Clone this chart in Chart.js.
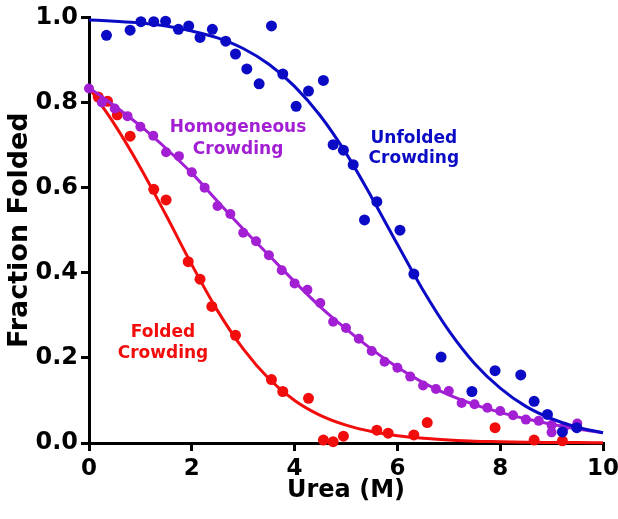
<!DOCTYPE html>
<html>
<head>
<meta charset="utf-8">
<script src="https://cdn.jsdelivr.net/npm/chart.js@4.4.1/dist/chart.umd.min.js"></script>
<style>
  html, body { margin: 0; padding: 0; background: #fff; }
  #wrap { width: 618px; height: 519px; }
</style>
</head>
<body>
<div id="wrap"><canvas id="unfolding_chart" width="618" height="519"></canvas></div>
<script>
var BLUE = "#0b0bc6";
var PURPLE = "#a21fd3";
var RED = "#f20d0d";
var FONT = "'DejaVu Sans', Verdana, sans-serif";

// tick values
var xTicks = [0, 2, 4, 6, 8, 10];
var yTicks = [0.0, 0.2, 0.4, 0.6, 0.8, 1.0];

// fitted curves, every 0.5 M
var fitUrea = [0, 0.5, 1, 1.5, 2, 2.5, 3, 3.5, 4, 4.5, 5, 5.5, 6, 6.5, 7, 7.5, 8, 8.5, 9, 9.5, 10];
var unfoldedFit = [0.994, 0.991, 0.987, 0.980, 0.968, 0.952, 0.927, 0.890, 0.838, 0.769, 0.681, 0.577, 0.467, 0.359, 0.264, 0.187, 0.129, 0.086, 0.057, 0.037, 0.024];
var homogeneousFit = [0.835, 0.792, 0.745, 0.692, 0.634, 0.568, 0.503, 0.441, 0.379, 0.320, 0.268, 0.220, 0.178, 0.142, 0.113, 0.090, 0.072, 0.057, 0.044, 0.033, 0.024];
var foldedFit = [0.835, 0.748, 0.647, 0.535, 0.419, 0.311, 0.221, 0.151, 0.100, 0.065, 0.042, 0.027, 0.017, 0.011, 0.007, 0.004, 0.003, 0.002, 0.001, 0.001, 0.0005];

// measured points
var unfoldedX = [0.34, 0.80, 1.01, 1.26, 1.49, 1.74, 1.94, 2.16, 2.40, 2.66, 2.85, 3.07, 3.31, 3.55, 3.77, 4.03, 4.27, 4.56, 4.75, 4.95, 5.14, 5.36, 5.60, 6.05, 6.32, 6.85, 7.45, 7.90, 8.40, 8.66, 8.92, 9.21, 9.49];
var unfoldedY = [0.958, 0.970, 0.990, 0.990, 0.991, 0.972, 0.980, 0.953, 0.972, 0.944, 0.914, 0.879, 0.844, 0.980, 0.867, 0.791, 0.827, 0.852, 0.701, 0.688, 0.654, 0.524, 0.567, 0.500, 0.397, 0.202, 0.121, 0.170, 0.160, 0.098, 0.067, 0.026, 0.036];

var homogeneousX = [0, 0.25, 0.5, 0.75, 1.0, 1.25, 1.5, 1.75, 2.0, 2.25, 2.5, 2.75, 3.0, 3.25, 3.5, 3.75, 4.0, 4.25, 4.5, 4.75, 5.0, 5.25, 5.5, 5.75, 6.0, 6.25, 6.5, 6.75, 7.0, 7.25, 7.5, 7.75, 8.0, 8.25, 8.5, 8.75, 9.0, 9.0, 9.25, 9.5];
var homogeneousY = [0.833, 0.800, 0.786, 0.768, 0.743, 0.722, 0.683, 0.674, 0.636, 0.600, 0.557, 0.538, 0.494, 0.474, 0.441, 0.406, 0.375, 0.360, 0.329, 0.285, 0.270, 0.245, 0.216, 0.191, 0.177, 0.156, 0.135, 0.127, 0.122, 0.094, 0.091, 0.083, 0.075, 0.065, 0.055, 0.052, 0.042, 0.025, 0.038, 0.046];

var foldedX = [0.18, 0.36, 0.55, 0.80, 1.26, 1.50, 1.93, 2.16, 2.39, 2.85, 3.55, 3.77, 4.27, 4.56, 4.75, 4.95, 5.60, 5.82, 6.32, 6.58, 7.90, 8.66, 9.21];
var foldedY = [0.813, 0.803, 0.771, 0.721, 0.596, 0.571, 0.426, 0.385, 0.321, 0.253, 0.149, 0.121, 0.105, 0.007, 0.003, 0.016, 0.030, 0.023, 0.019, 0.048, 0.036, 0.007, 0.005];

function toPoints(xs, ys) {
    return xs.map(function(x, i) { return {x: x, y: ys[i]}; });
}

function fitSet(ys, color) {
    return {
        data: toPoints(fitUrea, ys),
        showLine: true,
        borderColor: color,
        borderWidth: 3,
        pointRadius: 0,
        cubicInterpolationMode: "monotone",
        clip: false
    };
}

function dotSet(xs, ys, color, r) {
    return {
        data: toPoints(xs, ys),
        showLine: false,
        backgroundColor: color,
        borderColor: color,
        borderWidth: 0,
        pointRadius: r,
        clip: false
    };
}

// curve labels, placed in data units
var curveLabels = [
    {lines: ["Homogeneous", "Crowding"], x: 2.90, y: [0.740, 0.690], color: PURPLE},
    {lines: ["Unfolded", "Crowding"], x: 6.32, y: [0.716, 0.668], color: BLUE},
    {lines: ["Folded", "Crowding"], x: 1.44, y: [0.260, 0.210], color: RED}
];

var labelPlugin = {
    id: "curveLabels",
    afterDatasetsDraw: function(chart) {
        var ctx = chart.ctx;
        var sx = chart.scales.x, sy = chart.scales.y;
        ctx.save();
        ctx.font = "bold 17px " + FONT;
        ctx.textAlign = "center";
        ctx.textBaseline = "middle";
        curveLabels.forEach(function(lab) {
            ctx.fillStyle = lab.color;
            lab.lines.forEach(function(t, i) {
                ctx.fillText(t, sx.getPixelForValue(lab.x), sy.getPixelForValue(lab.y[i]));
            });
        });
        ctx.restore();
    }
};

var ctx_chart = document.getElementById("unfolding_chart");

var chart = new Chart(ctx_chart, {
    type: "scatter",
    data: {
        datasets: [
            dotSet(unfoldedX, unfoldedY, BLUE, 5.5),
            fitSet(unfoldedFit, BLUE),
            dotSet(homogeneousX, homogeneousY, PURPLE, 5),
            fitSet(homogeneousFit, PURPLE),
            dotSet(foldedX, foldedY, RED, 5.5),
            fitSet(foldedFit, RED)
        ]
    },
    plugins: [labelPlugin],
    options: {
        responsive: false,
        animation: false,
        layout: {
            padding: {top: 13, right: 15, bottom: 0, left: 0}
        },
        plugins: {
            legend: { display: false },
            tooltip: { enabled: false }
        },
        scales: {
            x: {
                type: "linear",
                min: 0,
                max: 10,
                afterFit: function(scale) {
                    scale.height = 76;
                    scale.paddingRight = 15;   // let "10" hang into the margin
                },
                afterBuildTicks: function(scale) {
                    scale.ticks = xTicks.map(function(v) { return {value: v}; });
                },
                grid: { drawOnChartArea: false, drawTicks: true, tickLength: 8, lineWidth: 3, color: "#000" },
                border: { display: true, width: 3, color: "#000" },
                ticks: {
                    color: "#000",
                    padding: 4,
                    font: { family: FONT, size: 23, weight: "bold" }
                },
                title: {
                    display: true,
                    text: "Urea (M)",
                    color: "#000",
                    padding: {top: 0, bottom: 14},
                    font: { family: FONT, size: 24, weight: "bold" }
                }
            },
            y: {
                type: "linear",
                min: 0,
                max: 1,
                afterFit: function(scale) { scale.width = 89; },
                afterBuildTicks: function(scale) {
                    scale.ticks = yTicks.map(function(v) { return {value: v}; });
                },
                grid: { drawOnChartArea: false, drawTicks: true, tickLength: 8, lineWidth: 3, color: "#000" },
                border: { display: true, width: 3, color: "#000" },
                ticks: {
                    color: "#000",
                    padding: 3,
                    font: { family: FONT, size: 24, weight: "bold" },
                    callback: function(value) { return value.toFixed(1); }
                },
                title: {
                    display: true,
                    text: "Fraction Folded",
                    color: "#000",
                    padding: {top: 4, bottom: 0},
                    font: { family: FONT, size: 27, weight: "bold" }
                }
            }
        }
    }
});
</script>
</body>
</html>
